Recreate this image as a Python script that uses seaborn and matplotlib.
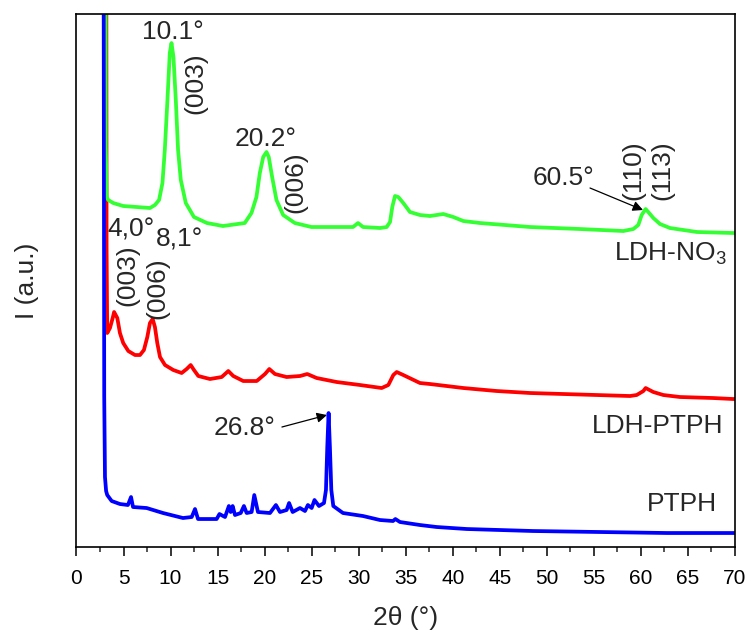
import matplotlib
matplotlib.use("Agg")
import matplotlib.pyplot as plt
from matplotlib.ticker import MultipleLocator
import seaborn as sns
import pandas as pd

# --- XRD patterns (2theta in degrees, intensity in arbitrary units) ---
ldh_no3_2theta = [3.08, 3.12, 3.21, 3.38, 3.91, 4.97, 6.40, 7.81, 8.34, 8.78, 9.14, 9.39,
                  9.67, 9.92, 10.1, 10.31, 10.56, 10.80, 11.09, 11.62, 12.49, 13.87, 15.57,
                  17.89, 18.60, 19.13, 19.49, 19.85, 20.2, 20.44, 20.80, 21.26, 21.97, 23.21,
                  24.98, 29.40, 29.93, 30.46, 32.27, 32.98, 33.33, 33.57, 33.86, 34.21, 34.74,
                  35.45, 36.51, 37.58, 38.99, 40.06, 41.12, 42.89, 48.21, 53.52, 58.13, 59.19,
                  59.72, 60.08, 60.5, 60.78, 61.32, 62.03, 63.09, 65.96, 69.79, 70.0]
ldh_no3_int = [700, 400, 350, 347, 344, 341, 340, 339, 342, 347, 364, 397,
               447, 494, 504, 490, 447, 397, 367, 344, 330, 324, 321,
               324, 334, 350, 374, 390, 395, 390, 370, 347, 332, 324,
               320, 320, 324, 320, 319, 320, 325, 340, 351, 350, 344,
               335, 332, 331, 333, 330, 326, 324, 320, 318, 316, 318,
               322, 332, 338, 335, 329, 323, 319, 315, 314, 314]

ldh_ptph_2theta = [3.16, 3.20, 3.27, 3.56, 3.85, 4.0, 4.34, 4.62, 4.97, 5.51, 6.22, 6.75,
                   7.17, 7.53, 7.81, 8.1, 8.34, 8.59, 8.88, 9.41, 10.29, 11.18, 11.71, 12.14,
                   12.49, 12.95, 14.19, 15.44, 16.14, 16.67, 17.73, 19.16, 20.04, 20.50, 21.10,
                   22.34, 23.76, 24.53, 25.53, 27.66, 30.14, 32.44, 33.15, 33.68, 34.04, 34.74,
                   36.51, 37.58, 41.12, 44.66, 48.21, 51.75, 55.29, 58.84, 59.55, 60.26, 60.5,
                   61.32, 62.38, 64.15, 67.66, 69.79, 70.0]
ldh_ptph_int = [700, 300, 214, 219, 229, 235, 229, 214, 204, 196, 192, 192,
                197, 210, 224, 228, 220, 204, 190, 182, 177, 174, 178, 182,
                177, 171, 168, 170, 176, 171, 166, 166, 173, 178, 173,
                170, 171, 173, 169, 165, 162, 159, 162, 172, 175, 172,
                164, 163, 159, 156, 154, 153, 152, 151, 152, 156, 159,
                155, 152, 150, 149, 148, 148]

ptph_2theta = [2.87, 2.95, 3.03, 3.15, 3.27, 3.74, 4.62, 5.47, 5.8, 6.01, 7.46, 9.20, 11.32,
               12.25, 12.6, 12.92, 14.90, 15.2, 15.79, 16.2, 16.39, 16.6, 16.85, 17.46, 17.8,
               18.09, 18.62, 18.9, 19.29, 20.57, 21.2, 21.63, 22.34, 22.6, 22.98, 23.76, 24.29,
               24.6, 25.0, 25.3, 25.78, 26.31, 26.52, 26.66, 26.8, 26.94, 27.09, 27.30, 28.33,
               30.46, 32.26, 33.65, 33.9, 34.39, 36.51, 38.29, 41.48, 48.53, 55.65, 62.77,
               69.79, 70.0]
ptph_int = [700, 150, 70, 56, 52, 46, 43, 42, 50, 40, 39, 34, 29,
            30, 38, 28, 28, 33, 30, 41, 35, 41, 32, 34, 41,
            34, 35, 52, 35, 34, 42, 35, 37, 44, 35, 39, 36,
            42, 39, 47, 41, 44, 57, 100, 134, 100, 57, 41, 34,
            31, 27, 26, 28, 25, 22, 20, 18, 16, 15, 14,
            14, 14]

series_names = ["LDH-PTPH", "LDH-NO$_\\mathregular{3}$", "PTPH"]
series_colors = ["#ff0000", "#33ff33", "#0000ff"]

sns.set_theme(style="ticks")
plt.rcParams["font.family"] = ["Liberation Sans", "DejaVu Sans"]
plt.rcParams["mathtext.fontset"] = "custom"
plt.rcParams["mathtext.rm"] = "Liberation Sans"

fig = plt.figure(figsize=(7.49, 6.34), dpi=100)
ax = fig.add_axes([0.1021, 0.1372, 0.8792, 0.8407])

frames = [
    pd.DataFrame({"two_theta": ldh_ptph_2theta, "I": ldh_ptph_int}),
    pd.DataFrame({"two_theta": ldh_no3_2theta, "I": ldh_no3_int}),
    pd.DataFrame({"two_theta": ptph_2theta, "I": ptph_int}),
]
for df, col in zip(frames, series_colors):
    sns.lineplot(data=df, x="two_theta", y="I", color=col, lw=2.7,
                 estimator=None, sort=False, ax=ax)
for ln in ax.lines:
    ln.set_solid_joinstyle("round")

ax.set_xlim(0, 70)
ax.set_ylim(0, 533)
ax.set_yticks([])
ax.xaxis.set_major_locator(MultipleLocator(5))
ax.xaxis.set_minor_locator(MultipleLocator(2.5))
ax.tick_params(axis="x", which="major", direction="out", length=6.5, width=1.1,
               labelsize=15, colors="black", pad=9)
ax.tick_params(axis="x", which="minor", direction="out", length=3.3, width=1.1)
for sp in ax.spines.values():
    sp.set_visible(True)
    sp.set_color("black")
    sp.set_linewidth(1.2)

ax.set_xlabel("2θ (°)", fontsize=19, labelpad=13)
ax.set_ylabel("I (a.u.)", fontsize=19, labelpad=27)

fs = 19
arrow_kw = dict(arrowstyle="-|>", color="black", lw=0.9, mutation_scale=15,
                shrinkA=0, shrinkB=0)

# LDH-NO3 reflections
ax.text(10.26, 515, "10.1°", fontsize=fs, ha="center", va="center")
ax.text(12.6, 464, "(003)", fontsize=fs, rotation=90, ha="center", va="center")
ax.text(20.14, 408, "20.2°", fontsize=fs, ha="center", va="center")
ax.text(23.23, 365, "(006)", fontsize=fs, rotation=90, ha="center", va="center")
ax.text(51.82, 369, "60.5°", fontsize=fs, ha="center", va="center")
ax.annotate("", xy=(60.22, 337), xytext=(54.59, 359), arrowprops=arrow_kw)
ax.text(59.16, 377, "(110)", fontsize=fs, rotation=90, ha="center", va="center")
ax.text(62.24, 377, "(113)", fontsize=fs, rotation=90, ha="center", va="center")

# LDH-PTPH reflections
ax.text(5.79, 318, "4,0°", fontsize=fs, ha="center", va="center")
ax.text(10.9, 308, "8,1°", fontsize=fs, ha="center", va="center")
ax.text(5.4, 272, "(003)", fontsize=fs, rotation=90, ha="center", va="center")
ax.text(8.6, 259, "(006)", fontsize=fs, rotation=90, ha="center", va="center")

# PTPH main reflection
ax.text(17.91, 119, "26.8°", fontsize=fs, ha="center", va="center")
ax.annotate("", xy=(26.63, 132), xytext=(21.84, 120), arrowprops=arrow_kw)

# sample names
ax.text(69.15, 293, series_names[1], fontsize=fs, ha="right", va="center")
ax.text(68.73, 121, series_names[0], fontsize=fs, ha="right", va="center")
ax.text(68.1, 43, series_names[2], fontsize=fs, ha="right", va="center")

fig.savefig("out.png", dpi=100)
